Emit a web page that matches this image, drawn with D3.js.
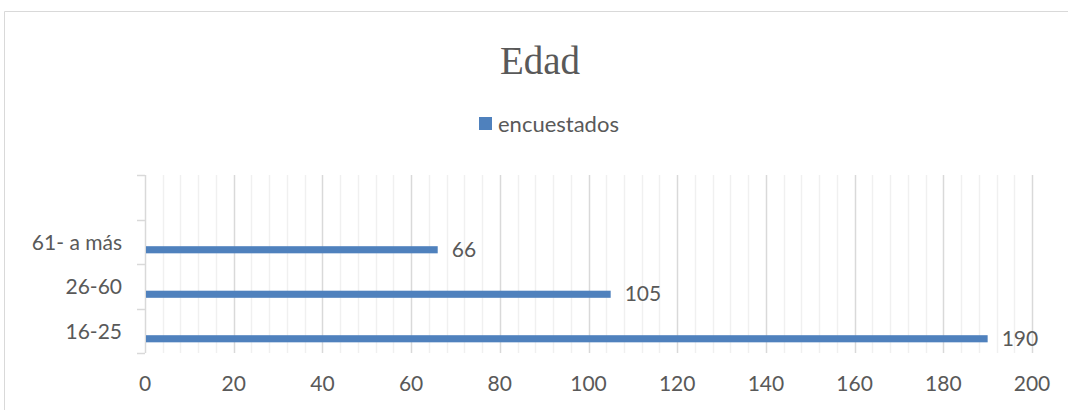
<!DOCTYPE html>
<html>
<head>
<meta charset="utf-8">
<script src="https://cdn.jsdelivr.net/npm/d3@7"></script>
<style>
  html, body { margin: 0; padding: 0; background: #fff; }
  svg { display: block; }
</style>
</head>
<body>
<svg id="chart" width="1068" height="410"></svg>
<script>
// data
const categories = ['16-25', '26-60', '61- a más', '']
const values = [190, 105, 66, null]
const xTicks = [0, 20, 40, 60, 80, 100, 120, 140, 160, 180, 200]
const seriesName = 'encuestados'
const chartTitle = 'Edad'

const width = 1068, height = 410
const plot = {left: 145, right: 1032, top: 175, bottom: 353}

const barColor = '#4f81bd'
const textColor = '#595959'
const sans = 'Lato, "Open Sans", sans-serif'

const svg = d3.select('#chart')

// outer frame: only top and left edges are inside the picture
svg.append('path')
    .attr('d', `M4.5,${height}V11.5H${width}`)
    .attr('fill', 'none')
    .attr('stroke', '#d9d9d9')
    .attr('stroke-width', 1)

// title
svg.append('text')
    .attr('x', 540).attr('y', 74)
    .attr('text-anchor', 'middle')
    .attr('font-family', '"Liberation Serif", "DejaVu Serif", serif')
    .attr('font-size', 39)
    .attr('fill', textColor)
    .text(chartTitle)

// legend
svg.append('rect')
    .attr('x', 479).attr('y', 117)
    .attr('width', 13).attr('height', 13)
    .attr('fill', barColor)
svg.append('text')
    .attr('x', 498).attr('y', 132)
    .attr('font-family', sans)
    .attr('font-size', 22)
    .attr('fill', textColor)
    .text(seriesName)

const xScale = d3.scaleLinear()
    .domain([0, 200])
    .range([plot.left, plot.right])

const yScale = d3.scaleBand()
    .domain(categories)
    .range([plot.bottom, plot.top])

const px = v => Math.round(v) + 0.5

// minor gridlines every 4
const minor = d3.range(4, 201, 4).filter(v => v % 20 !== 0)
svg.append('g').selectAll('line')
    .data(minor)
    .join('line')
    .attr('x1', d => px(xScale(d)))
    .attr('x2', d => px(xScale(d)))
    .attr('y1', plot.top).attr('y2', plot.bottom)
    .attr('stroke', '#f0f0f0')
    .attr('stroke-width', 1.5)

// major gridlines
svg.append('g').selectAll('line')
    .data(xTicks.slice(1))
    .join('line')
    .attr('x1', d => px(xScale(d)))
    .attr('x2', d => px(xScale(d)))
    .attr('y1', plot.top).attr('y2', plot.bottom)
    .attr('stroke', '#d9d9d9')
    .attr('stroke-width', 1.5)

// x tick labels
svg.append('g').selectAll('text')
    .data(xTicks)
    .join('text')
    .attr('x', d => xScale(d))
    .attr('y', 391)
    .attr('text-anchor', 'middle')
    .attr('font-family', sans)
    .attr('font-size', 21)
    .attr('fill', textColor)
    .text(d => d)

// y axis line with tick marks at band edges
const bandEdges = categories.map(c => yScale(c)).concat([plot.bottom])
svg.append('line')
    .attr('x1', px(plot.left)).attr('x2', px(plot.left))
    .attr('y1', plot.top).attr('y2', plot.bottom)
    .attr('stroke', '#d9d9d9')
    .attr('stroke-width', 1.5)
svg.append('g').selectAll('line')
    .data(bandEdges)
    .join('line')
    .attr('x1', plot.left - 8).attr('x2', plot.left)
    .attr('y1', d => px(d))
    .attr('y2', d => px(d))
    .attr('stroke', '#d9d9d9')
    .attr('stroke-width', 1.5)

// y labels
svg.append('g').selectAll('text')
    .data(categories.filter(c => c !== ''))
    .join('text')
    .attr('x', plot.left - 23)
    .attr('y', d => yScale(d) + yScale.bandwidth() / 2 + 8)
    .attr('text-anchor', 'end')
    .attr('font-family', sans)
    .attr('font-size', 21)
    .attr('fill', textColor)
    .text(d => d)

const data = categories.map((c, i) => ({cat: c, value: values[i]}))
    .filter(d => d.value !== null)

const barOffset = yScale.bandwidth() * 0.6
const barHeight = yScale.bandwidth() * 0.16

// bars
svg.append('g').selectAll('rect')
    .data(data)
    .join('rect')
    .attr('x', xScale(0) + 1)
    .attr('y', d => yScale(d.cat) + barOffset)
    .attr('width', d => xScale(d.value) - xScale(0) - 1)
    .attr('height', barHeight)
    .attr('fill', barColor)

// data labels
svg.append('g').selectAll('text')
    .data(data)
    .join('text')
    .attr('x', d => xScale(d.value) + 14)
    .attr('y', d => yScale(d.cat) + barOffset + barHeight / 2 + 7)
    .attr('font-family', sans)
    .attr('font-size', 21)
    .attr('fill', textColor)
    .text(d => d.value)
</script>
</body>
</html>
